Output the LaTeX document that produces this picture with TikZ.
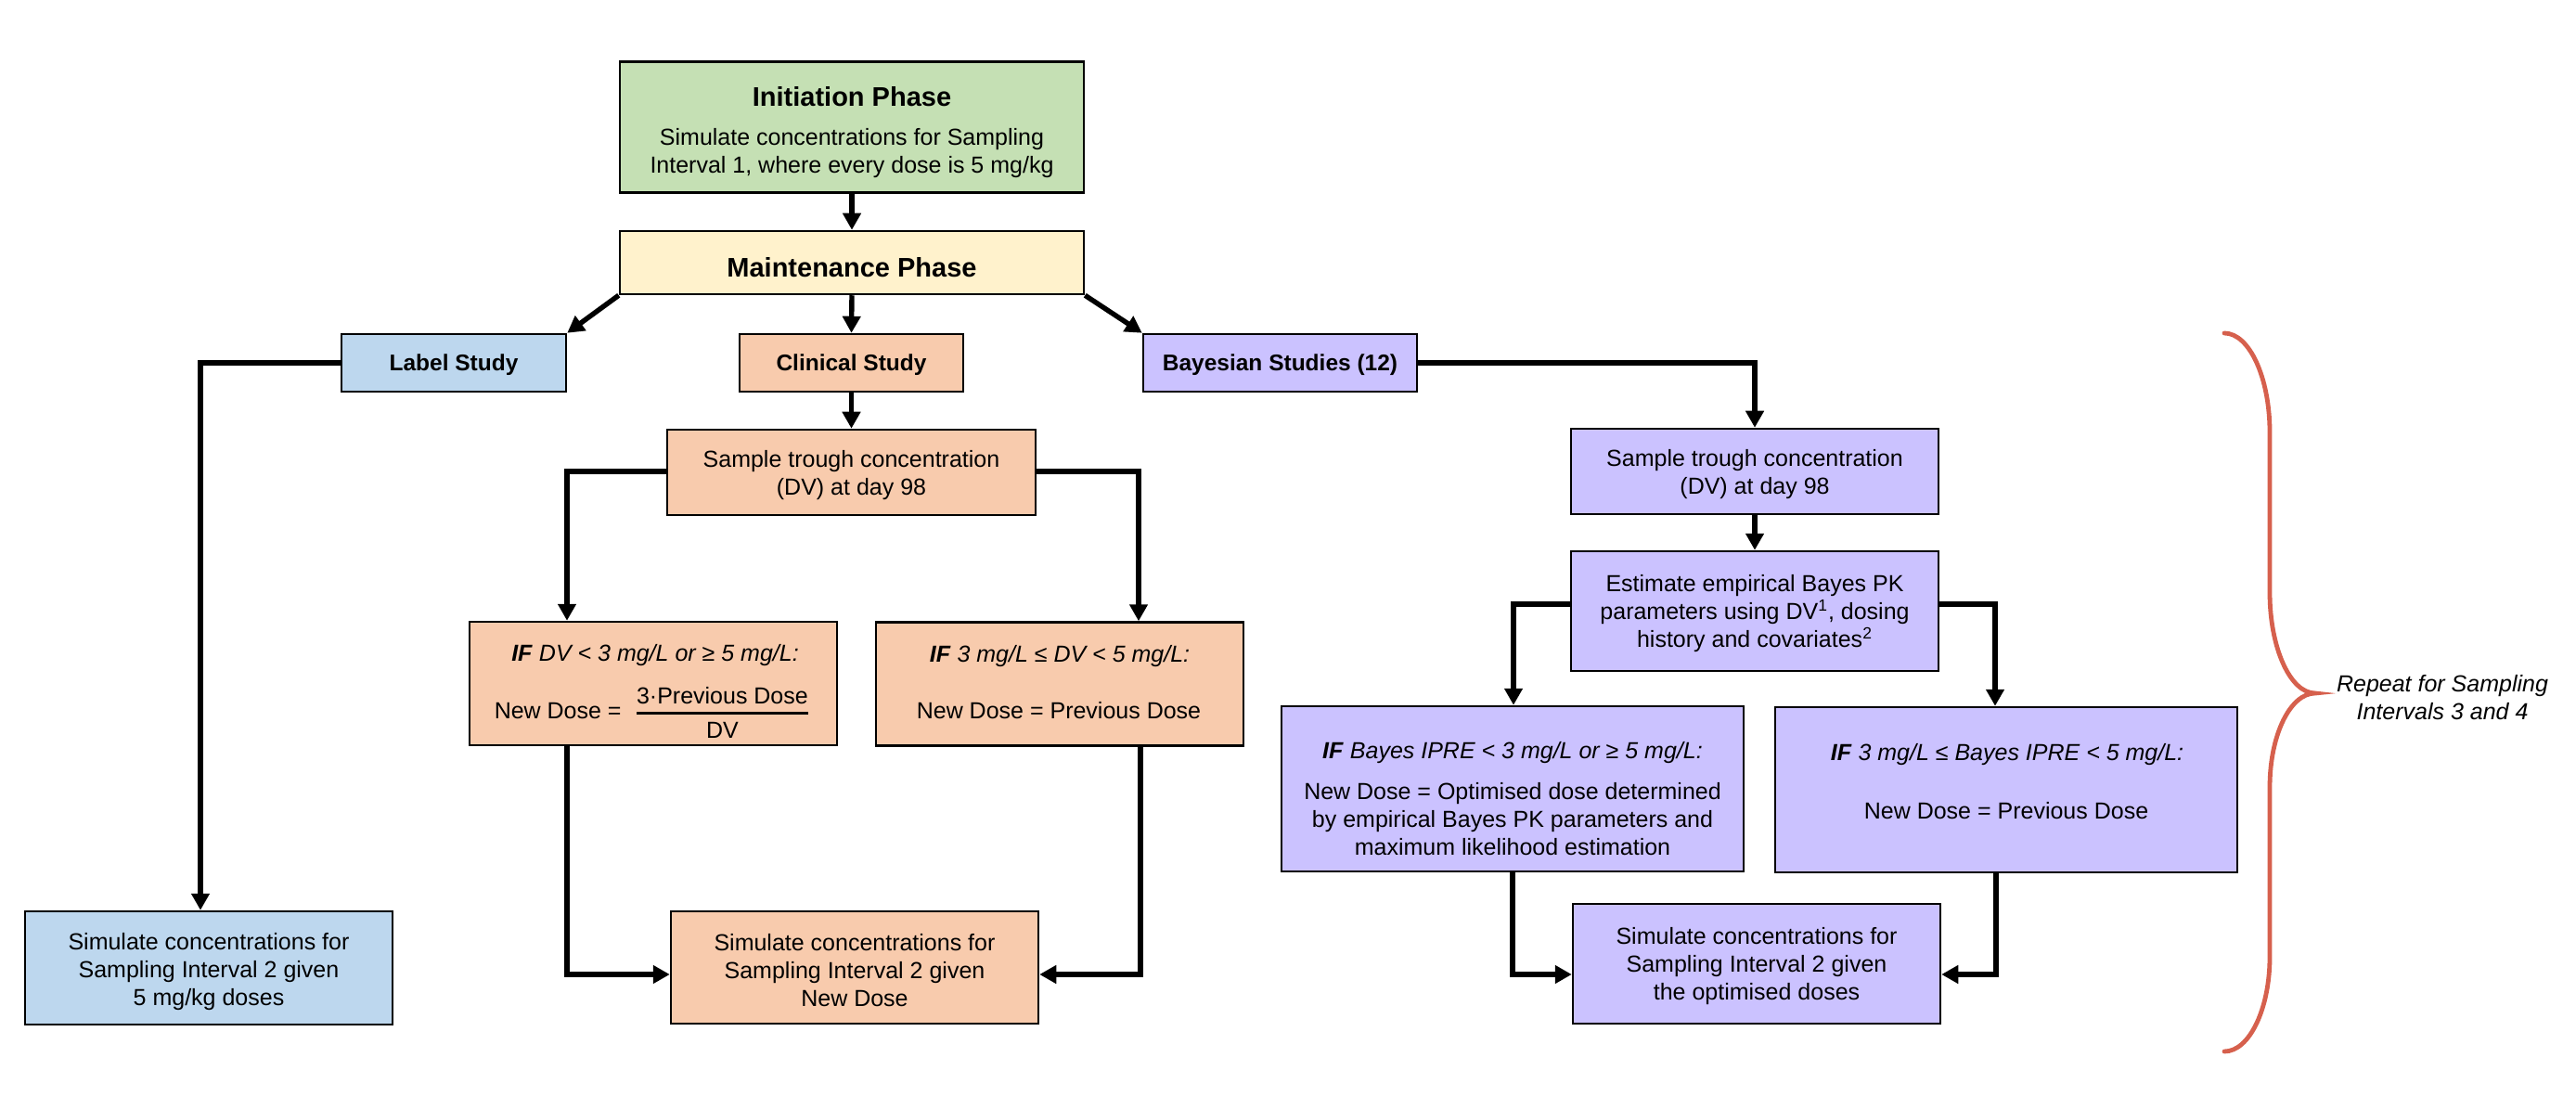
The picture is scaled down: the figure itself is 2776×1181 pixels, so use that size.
\documentclass[tikz,border=0pt]{standalone}
\usepackage{fontspec}
\setmainfont{Liberation Sans}
\usepackage{amsmath}
\usetikzlibrary{arrows.meta}
\definecolor{cgreen}{HTML}{C5E0B4}
\definecolor{cyellow}{HTML}{FFF2CC}
\definecolor{cblue}{HTML}{BDD7EE}
\definecolor{corange}{HTML}{F8CBAD}
\definecolor{cpurple}{HTML}{CBC2FF}
\definecolor{cbrace}{HTML}{D6604D}
\begin{document}
\begin{tikzpicture}[x=0.5pt,y=-0.5pt,
  box/.style={draw=black, line width=1.25pt, inner sep=0pt, align=center,
    font=\fontsize{12.5}{15}\selectfont},
  study/.style={box, minimum height=31pt, text depth=0pt, font=\fontsize{12.25}{15}\selectfont\bfseries},
  txt/.style={inner sep=0pt, align=center, font=\fontsize{12.5}{15}\selectfont},
  conn/.style={line width=2.7pt, -{Triangle[length=9pt,width=9.5pt]}},
  brace/.style={draw=cbrace, line width=2.4pt, line cap=round}]
\useasboundingbox (0,0) rectangle (2776,1181);

% top
\node[box, fill=cgreen, minimum width=250pt, minimum height=70.5pt] (init) at (918,137) {};
\node[txt] (initt) at (918,143)
  {{\fontsize{14.5}{15}\selectfont\bfseries Initiation Phase}\\[6pt]
   Simulate concentrations for Sampling\\Interval 1, where every dose is 5 mg/kg};
\node[box, fill=cyellow, minimum width=250pt, minimum height=34pt] (maint) at (918,283) {};
\node[txt, font=\fontsize{14.5}{15}\selectfont\bfseries] (maintt) at (918,288) {Maintenance Phase};

% studies
\node[study, fill=cblue, minimum width=121pt] (label) at (489,391) {Label Study};
\node[study, fill=corange, minimum width=120.5pt] (clin) at (917.5,391) {Clinical Study};
\node[study, fill=cpurple, minimum width=147.5pt] (bayes) at (1379.5,391) {Bayesian Studies (12)};

% label branch
\node[box, fill=cblue, minimum width=198pt, minimum height=61pt] (lsim) at (225,1043) {};
\node[txt] (lsimt) at (225,1047)
  {Simulate concentrations for\\Sampling Interval 2 given\\5 mg/kg doses};

% clinical branch
\node[box, fill=corange, minimum width=198.5pt, minimum height=46pt] (csample) at (917.5,509) {};
\node[txt] (csamplet) at (917.5,512) {Sample trough concentration\\(DV) at day 98};
\node[box, fill=corange, minimum width=198pt, minimum height=66.5pt] (cif1) at (704,736.5) {};
\node[txt] (cif1a) at (706,706) {\textbf{\textit{IF}} \textit{DV < 3 mg/L or ≥ 5 mg/L:}};
\node[txt] (cif1b) at (703,768) {New Dose =\hspace{7pt}$\genfrac{}{}{1.4pt}{0}{\text{3·Previous Dose}}{\text{DV}}$};
\node[box, fill=corange, minimum width=198pt, minimum height=66.5pt] (cif2) at (1142,737) {};
\node[txt] (cif2a) at (1142,707.5) {\textbf{\textit{IF}} \textit{3 mg/L ≤ DV < 5 mg/L:}};
\node[txt] (cif2b) at (1141,766) {New Dose = Previous Dose};
\node[box, fill=corange, minimum width=198pt, minimum height=60.5pt] (csim) at (921,1042.5) {};
\node[txt] (csimt) at (921,1046)
  {Simulate concentrations for\\Sampling Interval 2 given\\New Dose};

% bayesian branch
\node[box, fill=cpurple, minimum width=198pt, minimum height=46pt] (bsample) at (1891,508) {};
\node[txt] (bsamplet) at (1891,511) {Sample trough concentration\\(DV) at day 98};
\node[box, fill=cpurple, minimum width=198pt, minimum height=64.5pt] (best) at (1891,658.5) {};
\node[txt] (bestt) at (1891,661)
  {Estimate empirical Bayes PK\\parameters using DV\textsuperscript{1}, dosing\\history and covariates\textsuperscript{2}};
\node[box, fill=cpurple, minimum width=249pt, minimum height=89pt] (bif1) at (1630,850) {};
\node[txt] (bif1a) at (1630,811) {\textbf{\textit{IF}} \textit{Bayes IPRE < 3 mg/L or ≥ 5 mg/L:}};
\node[txt] (bif1b) at (1630,882.5) {New Dose = Optimised dose determined\\by empirical Bayes PK parameters and\\maximum likelihood estimation};
\node[box, fill=cpurple, minimum width=249pt, minimum height=89pt] (bif2) at (2162,851) {};
\node[txt] (bif2a) at (2163,813) {\textbf{\textit{IF}} \textit{3 mg/L ≤ Bayes IPRE < 5 mg/L:}};
\node[txt] (bif2b) at (2162,874) {New Dose = Previous Dose};
\node[box, fill=cpurple, minimum width=198pt, minimum height=64.5pt] (bsim) at (1893,1038.5) {};
\node[txt] (bsimt) at (1893,1041)
  {Simulate concentrations for\\Sampling Interval 2 given\\the optimised doses};

% connectors
\draw[conn] (init.south) -- (maint.north);
\draw[conn] (maint.south west) -- (label.north east);
\draw[conn] (maint.south) -- (clin.north);
\draw[conn] (maint.south east) -- (bayes.north west);

\coordinate (lc) at (216,391);
\draw[conn] (label.west) -- (lc) -- (lc |- lsim.north);

\draw[conn] (clin.south) -- (csample.north);
\coordinate (cl) at (611,508);
\coordinate (cr) at (1227,508);
\draw[conn] (csample.west |- cl) -- (cl) -- (cl |- cif1.north);
\draw[conn] (csample.east |- cr) -- (cr) -- (cr |- cif2.north);
\coordinate (cbl) at (611,1050);
\coordinate (cbr) at (1229,1050);
\draw[conn] (cbl |- cif1.south) -- (cbl) -- (cbl -| csim.west);
\draw[conn] (cbr |- cif2.south) -- (cbr) -- (cbr -| csim.east);

\coordinate (bt) at (1891,391);
\draw[conn] (bayes.east) -- (bt) -- (bsample.north);
\draw[conn] (bsample.south) -- (best.north);
\coordinate (bl) at (1631,651);
\coordinate (br) at (2150,651);
\draw[conn] (best.west |- bl) -- (bl) -- (bl |- bif1.north);
\draw[conn] (best.east |- br) -- (br) -- (br |- bif2.north);
\coordinate (bbl) at (1630,1050);
\coordinate (bbr) at (2151,1050);
\draw[conn] (bbl |- bif1.south) -- (bbl) -- (bbl -| bsim.west);
\draw[conn] (bbr |- bif2.south) -- (bbr) -- (bbr -| bsim.east);

% brace and note
\draw[brace] (2397,359) .. controls (2424,359) and (2446,407) .. (2446,466)
  -- (2446,639) .. controls (2446,698) and (2468,747) .. (2495,747)
  .. controls (2468,747) and (2446,792) .. (2446,848)
  -- (2446,1031) .. controls (2446,1087) and (2424,1133) .. (2397,1133);
\node[txt, font=\fontsize{12.5}{15}\selectfont\itshape] (rep) at (2632,752)
  {Repeat for Sampling\\Intervals 3 and 4};
\end{tikzpicture}
\end{document}
